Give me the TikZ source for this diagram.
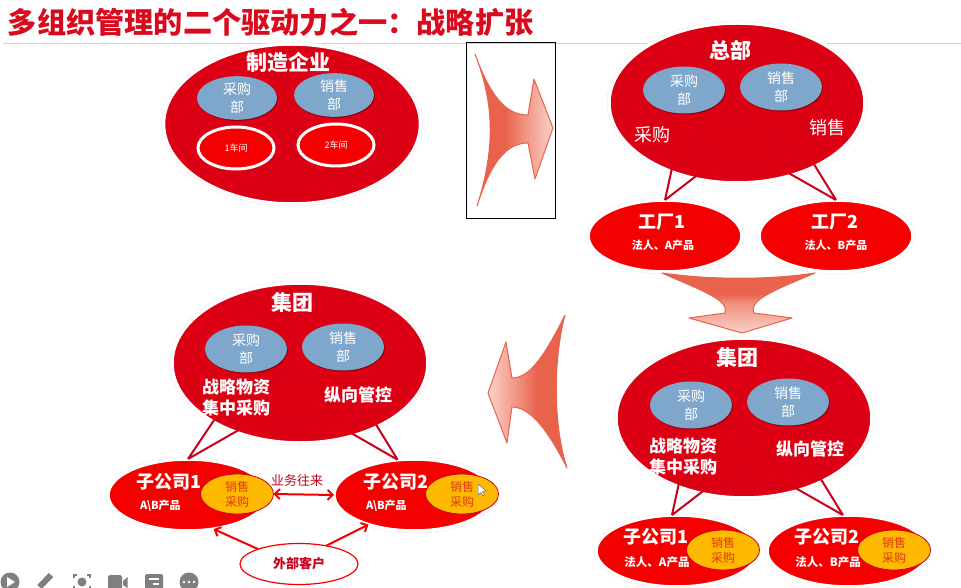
\documentclass[tikz,border=0pt]{standalone}
\usepackage{fontspec}
\setmainfont{Noto Sans CJK SC}
\usetikzlibrary{shapes.geometric,shadows,arrows.meta}
\definecolor{bigred}{HTML}{DC0014}
\definecolor{subred}{HTML}{F40000}
\definecolor{deptblue}{HTML}{7FA7CB}
\definecolor{linkred}{HTML}{C8001E}
\definecolor{faintred}{HTML}{E2000F}
\definecolor{ttlred}{HTML}{DA0A1E}
\definecolor{saleyellow}{HTML}{FFB900}
\definecolor{saletxt}{HTML}{DC3A12}
\definecolor{ara}{HTML}{E8624C}
\definecolor{arb}{HTML}{F0907E}
\definecolor{arc}{HTML}{FBD2CA}
\definecolor{iconx}{HTML}{7F7F7F}
\pgfdeclarehorizontalshading{arrR}{100bp}{color(0bp)=(ara);color(25bp)=(ara);color(44bp)=(ara);color(56bp)=(arb);color(75bp)=(arc);color(100bp)=(arc)}
\pgfdeclarehorizontalshading{arrL}{100bp}{color(0bp)=(arc);color(25bp)=(arc);color(44bp)=(arb);color(56bp)=(ara);color(75bp)=(ara);color(100bp)=(ara)}
\pgfdeclareverticalshading{arrD}{100bp}{color(0bp)=(arc);color(25bp)=(arc);color(50bp)=(arb);color(58bp)=(ara);color(75bp)=(ara);color(100bp)=(ara)}
\pgfdeclarelayer{paper}
\pgfdeclarelayer{ovals}
\pgfdeclarelayer{links}
\pgfsetlayers{paper,ovals,links,main}
\newcommand{\fsz}[2]{\fontsize{#1}{#2}\selectfont}
\tikzset{
  every node/.style={inner sep=0pt,outer sep=0pt},
  softshadow/.style={drop shadow={shadow xshift=.5pt,shadow yshift=-1.5pt,fill=black,opacity=.18},preaction={draw=black!8,line width=4.5pt}},
  bigov/.style={ellipse,fill=bigred,draw=white,line width=3.5pt,minimum width=256pt,minimum height=160pt,softshadow},
  subov/.style={ellipse,fill=subred,draw=white,line width=3.5pt,minimum width=158pt,minimum height=72pt,softshadow},
  deptov/.style={ellipse,fill=deptblue,minimum width=82pt,minimum height=47pt,text=white,align=center,
     font=\fsz{14}{18},drop shadow={shadow xshift=.8pt,shadow yshift=-1pt,fill=black!70!red,opacity=.6}},
  shopov/.style={ellipse,fill=subred,draw=white,line width=3pt,minimum width=76pt,minimum height=42pt,text=white,font=\fsz{9}{11},
     drop shadow={shadow xshift=.8pt,shadow yshift=-1pt,fill=black,opacity=.4}},
  saleov/.style={ellipse,fill=saleyellow,draw=linkred,line width=.8pt,minimum width=73pt,minimum height=40pt,
     text=saletxt,align=center,font=\fsz{12}{15}},
  wlabel/.style={text=white,font=\bfseries\fsz{17}{21},align=center},
  hlabel/.style={text=white,font=\bfseries\fsz{21}{25}},
  plabel/.style={text=white,font=\fsz{18}{21}},
  slabel/.style={text=white,font=\bfseries\fsz{18}{21}},
  tlabel/.style={text=white,font=\bfseries\fsz{11}{13}},
  vlink/.style={draw=linkred,line width=2pt},
  flink/.style={draw=faintred,line width=2.6pt},
  redarrow/.style={draw=subred,line width=2pt,-{Straight Barb[length=5pt,width=10pt]}},
  bigarrow/.style={draw=ara,line width=1pt,line join=round},
  icon/.style={fill=iconx,draw=none}
}
\begin{document}
\begin{tikzpicture}[x=1pt,y=-1pt]
\useasboundingbox (0,0) rectangle (961,588);
\begin{pgfonlayer}{paper}
\fill[white] (0,0) rectangle (961,588);
\end{pgfonlayer}
\node[anchor=west,text=ttlred,font=\bfseries\fsz{29.2}{32}] (title) at (8,22) {多组织管理的二个驱动力之一：战略扩张};
\coordinate (ruleL) at (3,44);
\coordinate (ruleR) at (961,44);
\begin{pgfonlayer}{paper}
\draw[draw=black!18,line width=1pt] (ruleL) -- (ruleR);
\end{pgfonlayer}
% big arrows
\node[draw=black,line width=1pt,minimum width=89pt,minimum height=176pt] (frame) at (510.5,131) {};
\path[bigarrow,shading=arrR] (475,54) .. controls (490,95) and (505,115) .. (528,115) -- (534,79) -- (553,128) -- (535,179) -- (528,143) .. controls (505,143) and (490,165) .. (477,206) .. controls (495,150) and (495,105) .. (475,54) -- cycle;
\path[bigarrow,shading=arrD] (662,273) .. controls (710,280) and (770,280) .. (815,273) .. controls (775,290) and (748,300) .. (754,313) -- (792,318) -- (742,333) -- (689,318) -- (725,313) .. controls (730,300) and (700,290) .. (662,273) -- cycle;
\path[bigarrow,shading=arrL] (565,315) .. controls (545,355) and (530,378) .. (512,378) -- (506,342) -- (488,393) -- (507,443) -- (512,407) .. controls (530,407) and (548,430) .. (567,468) .. controls (553,425) and (553,360) .. (565,315) -- cycle;
% manufacturer
\begin{pgfonlayer}{ovals}
\node[bigov,minimum width=257pt,minimum height=160pt] (mfg) at (292,124) {};
\node[bigov] (hq) at (737,103) {};
\node[bigov] (gr) at (744,418) {};
\node[bigov] (gl) at (300,363) {};
\node[subov,minimum width=154pt] (f1) at (665,236) {};
\node[subov,minimum width=154pt] (f2) at (836,236) {};
\node[subov,minimum width=162pt] (r1) at (677,551) {};
\node[subov,minimum width=162pt] (r2) at (848,551) {};
\node[subov,minimum width=160pt] (l1) at (188,495) {};
\node[subov,minimum width=160pt] (l2) at (414,495) {};
\end{pgfonlayer}
\node[hlabel] (mfgT) at (288,62) {制造企业};
\node[deptov,minimum width=80pt,minimum height=40pt] (mfgA) at (237,98) {采购\\部};
\node[deptov,minimum width=80pt,minimum height=40pt] (mfgB) at (334,95) {销售\\部};
\node[shopov] (shop1) at (236,148) {1车间};
\node[shopov] (shop2) at (336,145) {2车间};
% headquarters
\node[hlabel] (hqT) at (730,50) {总部};
\node[deptov] (hqA) at (684,90) {采购\\部};
\node[deptov] (hqB) at (781,87) {销售\\部};
\node[plabel] (hqP) at (652,135) {采购};
\node[plabel] (hqS) at (827,128) {销售};
\node[slabel] (f1T) at (662,222) {工厂1};
\node[tlabel] (f1L) at (663,245) {法人、A产品};
\node[slabel] (f2T) at (835,222) {工厂2};
\node[tlabel] (f2L) at (836,245) {法人、B产品};
% group right
\node[hlabel] (grT) at (737,357) {集团};
\node[deptov] (grA) at (691,405) {采购\\部};
\node[deptov] (grB) at (788,402) {销售\\部};
\node[wlabel] (grP) at (683,457) {战略物资\\集中采购};
\node[wlabel] (grS) at (810,449) {纵向管控};
\node[saleov] (r1s) at (723,550) {销售\\采购};
\node[saleov] (r2s) at (894,550) {销售\\采购};
\node[slabel] (r1T) at (656,537) {子公司1};
\node[tlabel,font=\bfseries\fsz{11.5}{13}] (r1L) at (657,562) {法人、A产品};
\node[slabel] (r2T) at (827,537) {子公司2};
\node[tlabel,font=\bfseries\fsz{11.5}{13}] (r2L) at (828,562) {法人、B产品};
% group left
\node[hlabel] (glT) at (292,302) {集团};
\node[deptov] (glA) at (246,349) {采购\\部};
\node[deptov] (glB) at (343,347) {销售\\部};
\node[wlabel] (glP) at (236,398) {战略物资\\集中采购};
\node[wlabel] (glS) at (358,395) {纵向管控};
\node[saleov] (l1s) at (237,494) {销售\\采购};
\node[saleov] (l2s) at (462,494) {销售\\采购};
\node[slabel] (l1T) at (169,482) {子公司1};
\node[tlabel,anchor=west] (l1L) at (140,506) {A\textbackslash B产品};
\node[slabel] (l2T) at (396,482) {子公司2};
\node[tlabel,anchor=west] (l2L) at (366,506) {A\textbackslash B产品};
\node[ellipse,draw=subred,line width=1.2pt,fill=white,minimum width=118pt,minimum height=41pt,text=linkred,font=\bfseries\fsz{13}{15}] (ext) at (299,564) {外部客户};
\node[text=linkred,font=\fsz{13}{15}] (biz) at (297,481) {业务往来};
% connectors: dark outside the big ovals, barely visible across them
\begin{pgfonlayer}{links}
\draw[vlink] (hqA.south) -- (f1.north) (hqB.south) -- (f1.north) (hqA.south) -- (f2.north) (hqB.south) -- (f2.north);
\draw[vlink] (grA.south) -- (r1.98) (grB.south) -- (r1.98) (grA.south) -- (r2.98) (grB.south) -- (r2.98);
\draw[vlink] (glA.south) -- (l1.north) (glB.south) -- (l1.north) (glA.south) -- (l2.115) (glB.south) -- (l2.115);
\begin{scope}
\clip (hq.center) ellipse [x radius=124.5,y radius=76.5];
\draw[flink] (hqA.south) -- (f1.north) (hqB.south) -- (f1.north) (hqA.south) -- (f2.north) (hqB.south) -- (f2.north);
\end{scope}
\begin{scope}
\clip (gr.center) ellipse [x radius=124.5,y radius=76.5];
\draw[flink] (grA.south) -- (r1.98) (grB.south) -- (r1.98) (grA.south) -- (r2.98) (grB.south) -- (r2.98);
\end{scope}
\begin{scope}
\clip (gl.center) ellipse [x radius=124.5,y radius=76.5];
\draw[flink] (glA.south) -- (l1.north) (glB.south) -- (l1.north) (glA.south) -- (l2.115) (glB.south) -- (l2.115);
\end{scope}
\end{pgfonlayer}
% red arrows
\draw[redarrow,{Straight Barb[length=5pt,width=10pt]}-{Straight Barb[length=5pt,width=10pt]}] (l1s.east) -- (l2.west);
\draw[redarrow] (ext.160) -- (l1.-53);
\draw[redarrow] (ext.34) -- (l2.-147);
% mouse cursor
\path[fill=white,draw=black!55,line width=.5pt] (478,484) -- (478,495) -- (481,492.5) -- (483,496) -- (484.5,495) -- (482.5,491.5) -- (486,491) -- cycle;
% toolbar icons
\fill[icon] (10,582) circle (9.5);
\fill[white] (7,577) -- (7,587) -- (15,582) -- cycle;
\draw[iconx,line width=6pt] (39.5,587) -- (51,575);
\draw[iconx,line width=1.8pt] (74,578) -- (74,575) -- (77,575) (87,575) -- (90,575) -- (90,578) (74,586) -- (74,589) -- (77,589) (90,586) -- (90,589) -- (87,589);
\fill[icon] (82,582) circle (4.5);
\fill[icon,rounded corners=1.5pt] (108,575) rectangle (122,589);
\fill[icon] (123,581) -- (127.5,577) -- (127.5,588) -- (123,585) -- cycle;
\fill[icon,rounded corners=2pt] (145,574) rectangle (163,590);
\draw[white,line width=1.3pt] (149,579) -- (159,579) (153,584) -- (159,584);
\fill[icon] (189,582) circle (9.5);
\fill[white] (184,582) circle (1.3) (189,582) circle (1.3) (194,582) circle (1.3);
\end{tikzpicture}
\end{document}
